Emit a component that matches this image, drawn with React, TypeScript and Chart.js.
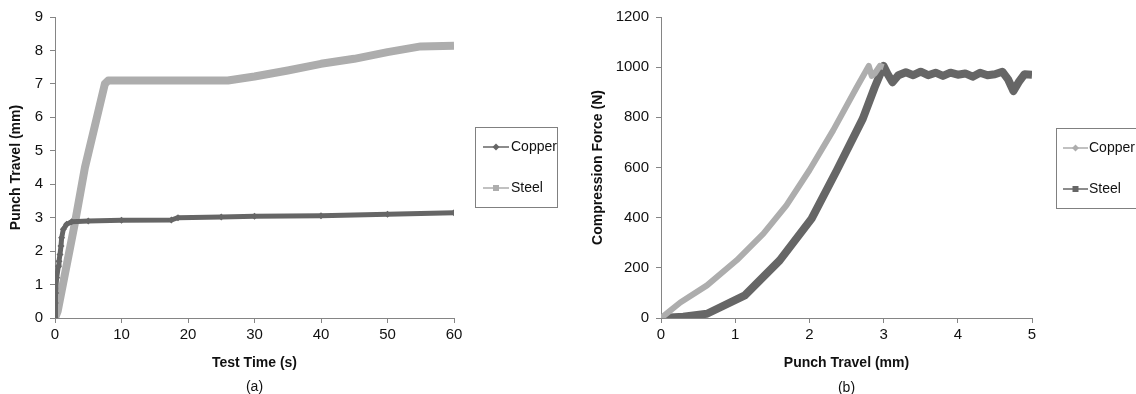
import React, { useEffect, useRef } from "react";
import { Chart, registerables } from "chart.js";

Chart.register(...registerables);

const DARK = "#666666";
const LIGHT = "#adadad";
const FONT = "'Liberation Sans', Arial, sans-serif";

// ---- (a) Punch travel vs test time ----
const timeCopper = [0, 0.05, 0.1, 0.25, 0.5, 0.6, 0.75, 0.9, 1.0, 1.25, 1.75, 2.5, 5, 10, 17.5, 18.5, 25, 30, 40, 50, 60];
const travelCopper = [0, 0.45, 0.75, 1.2, 1.55, 1.7, 1.9, 2.15, 2.4, 2.65, 2.8, 2.88, 2.9, 2.92, 2.93, 3.0, 3.02, 3.04, 3.06, 3.1, 3.15];
const timeSteel = [0, 0.4, 3, 4.5, 6.3, 7.5, 8, 15, 26, 30, 35, 40, 45, 50, 55, 60];
const travelSteel = [0, 0.2, 2.85, 4.5, 6.0, 7.0, 7.1, 7.1, 7.1, 7.22, 7.4, 7.6, 7.75, 7.95, 8.12, 8.14];
const timeTicks = [0, 10, 20, 30, 40, 50, 60];
const travelTicks = [0, 1, 2, 3, 4, 5, 6, 7, 8, 9];

// ---- (b) Compression force vs punch travel ----
const travelCopperB = [0, 0.12, 0.26, 0.62, 1.02, 1.38, 1.69, 2.0, 2.32, 2.64, 2.8, 2.84, 2.88, 2.95, 3.0];
const forceCopper = [0, 28, 62, 130, 230, 336, 449, 589, 748, 921, 1005, 965, 975, 1005, 1000];
const travelSteelB = [0, 0.3, 0.62, 1.13, 1.6, 2.03, 2.37, 2.72, 2.88, 3.0, 3.05, 3.12, 3.2, 3.3, 3.4, 3.5, 3.6, 3.7, 3.8, 3.9, 4.0, 4.1, 4.2, 4.3, 4.4, 4.5, 4.6, 4.68, 4.75, 4.82, 4.9, 5.0];
const forceSteel = [0, 5, 17, 90, 230, 396, 589, 795, 920, 1005, 975, 940, 968, 980, 968, 982, 968, 978, 965, 978, 970, 975, 962, 978, 968, 972, 982, 950, 905, 940, 972, 970];
const punchTicks = [0, 1, 2, 3, 4, 5];
const forceTicks = [0, 200, 400, 600, 800, 1000, 1200];

const seriesNames = ["Copper", "Steel"];

const toXY = (xs: number[], ys: number[]) => xs.map((x, i) => ({ x, y: ys[i] }));

const boxLegend = {
  id: "boxLegend",
  afterDraw(chart: any, _args: any, opts: any) {
    const ctx = chart.ctx as CanvasRenderingContext2D;
    ctx.save();
    ctx.strokeStyle = "#808080";
    ctx.lineWidth = 1;
    ctx.strokeRect(opts.x + 0.5, opts.y + 0.5, opts.w, opts.h);
    chart.data.datasets.forEach((ds: any, i: number) => {
      const y = opts.rows[i];
      ctx.strokeStyle = ds.borderColor;
      ctx.fillStyle = ds.borderColor;
      ctx.lineWidth = 1.5;
      ctx.beginPath();
      ctx.moveTo(opts.lx0, y);
      ctx.lineTo(opts.lx1, y);
      ctx.stroke();
      const cx = (opts.lx0 + opts.lx1) / 2;
      ctx.beginPath();
      if (ds.pointStyle === "rectRot") {
        ctx.moveTo(cx, y - 3.5);
        ctx.lineTo(cx + 3.5, y);
        ctx.lineTo(cx, y + 3.5);
        ctx.lineTo(cx - 3.5, y);
        ctx.closePath();
      } else {
        ctx.rect(cx - 3, y - 3, 6, 6);
      }
      ctx.fill();
      ctx.fillStyle = "#111";
      ctx.font = `14px ${FONT}`;
      ctx.textAlign = "left";
      ctx.textBaseline = "middle";
      ctx.fillText(ds.label, opts.tx, y);
    });
    const area = chart.chartArea;
    ctx.font = `14px ${FONT}`;
    ctx.textAlign = "center";
    ctx.fillStyle = "#111";
    ctx.fillText(opts.caption, (area.left + area.right) / 2, opts.captionY);
    ctx.restore();
  },
};

function makeConfig(p: any) {
  const axisColor = "#858585";
  return {
    type: "scatter",
    data: { datasets: p.datasets },
    plugins: [boxLegend],
    options: {
      responsive: false,
      animation: false,
      layout: { padding: { left: 0, top: 17, right: p.padRight, bottom: 0 } },
      plugins: {
        legend: { display: false },
        tooltip: { enabled: false },
        boxLegend: p.legend,
      },
      scales: {
        x: {
          type: "linear",
          min: p.xTicks[0],
          max: p.xTicks[p.xTicks.length - 1],
          afterBuildTicks: (s: any) => { s.ticks = p.xTicks.map((v: number) => ({ value: v })); },
          afterFit: (s: any) => { s.height = 76; },
          grid: { drawOnChartArea: false, drawTicks: true, tickLength: 5, color: axisColor },
          border: { display: true, color: axisColor, width: 1 },
          ticks: { color: "#111", font: { size: 15, family: FONT }, padding: 3, maxRotation: 0, callback: (v: any) => String(v) },
          title: { display: true, text: p.xTitle, color: "#111", font: { size: 14, weight: "bold", family: FONT }, padding: { top: 0, bottom: 22.6 } },
        },
        y: {
          type: "linear",
          min: p.yTicks[0],
          max: p.yTicks[p.yTicks.length - 1],
          afterBuildTicks: (s: any) => { s.ticks = p.yTicks.map((v: number) => ({ value: v })); },
          afterFit: (s: any) => { s.width = p.yWidth; },
          grid: { drawOnChartArea: false, drawTicks: true, tickLength: 5, color: axisColor },
          border: { display: true, color: axisColor, width: 1 },
          ticks: { color: "#111", font: { size: 15, family: FONT }, padding: 7, callback: (v: any) => String(v) },
          title: { display: true, text: p.yTitle, color: "#111", font: { size: 14, weight: "bold", family: FONT }, padding: { top: p.yTitlePad, bottom: 0 } },
        },
      },
    },
  };
}

export default function App() {
  const leftRef = useRef<HTMLCanvasElement>(null);
  const rightRef = useRef<HTMLCanvasElement>(null);

  useEffect(() => {
    document.body.style.margin = "0";
    const left = new Chart(leftRef.current as HTMLCanvasElement, makeConfig({
      datasets: [
        {
          label: seriesNames[0], data: toXY(timeCopper, travelCopper), showLine: true,
          borderColor: DARK, backgroundColor: DARK, borderWidth: 5, pointStyle: "rectRot",
          pointRadius: 3.5, pointBorderWidth: 0, borderJoinStyle: "round",
        },
        {
          label: seriesNames[1], data: toXY(timeSteel, travelSteel), showLine: true,
          borderColor: LIGHT, backgroundColor: LIGHT, borderWidth: 8, pointStyle: "rect",
          pointRadius: 0, borderJoinStyle: "round",
        },
      ],
      xTicks: timeTicks, yTicks: travelTicks,
      xTitle: "Test Time (s)", yTitle: "Punch Travel (mm)",
      yWidth: 55, yTitlePad: 8, padRight: 114,
      legend: { x: 475, y: 127, w: 82, h: 80, rows: [147, 188], lx0: 483, lx1: 509, tx: 511, caption: "(a)", captionY: 387 },
    }) as any);
    const right = new Chart(rightRef.current as HTMLCanvasElement, makeConfig({
      datasets: [
        {
          label: seriesNames[0], data: toXY(travelCopperB, forceCopper), showLine: true,
          borderColor: LIGHT, backgroundColor: LIGHT, borderWidth: 6, pointStyle: "rectRot",
          pointRadius: 0, borderJoinStyle: "round",
        },
        {
          label: seriesNames[1], data: toXY(travelSteelB, forceSteel), showLine: true,
          borderColor: DARK, backgroundColor: DARK, borderWidth: 8, pointStyle: "rect",
          pointRadius: 0, borderJoinStyle: "round",
        },
      ],
      xTicks: punchTicks, yTicks: forceTicks,
      xTitle: "Punch Travel (mm)", yTitle: "Compression Force (N)",
      yWidth: 93, yTitlePad: 21.6, padRight: 104,
      legend: { x: 488, y: 128, w: 100, h: 80, rows: [148, 189], lx0: 495, lx1: 520, tx: 521, caption: "(b)", captionY: 388 },
    }) as any);
    return () => { left.destroy(); right.destroy(); };
  }, []);

  return (
    <div style={{ position: "relative", width: 1136, height: 394, background: "#fff", overflow: "hidden" }}>
      <canvas ref={leftRef} width={568} height={394} style={{ position: "absolute", left: 0, top: 0 }} />
      <canvas ref={rightRef} width={568} height={394} style={{ position: "absolute", left: 568, top: 0 }} />
    </div>
  );
}
